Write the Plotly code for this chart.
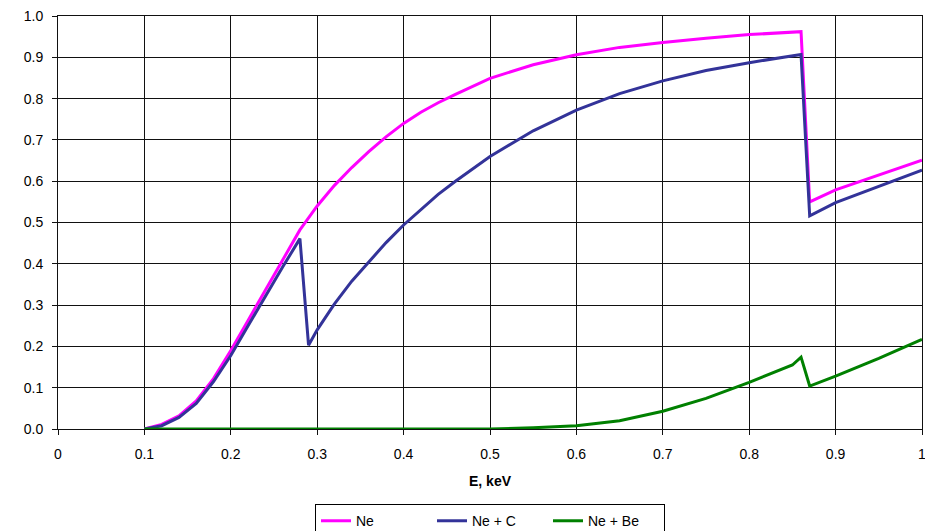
import plotly.graph_objects as go

# Energy grid (keV) and transmission values
e_ne = [0.10, 0.12, 0.14, 0.16, 0.18, 0.20, 0.22, 0.24, 0.26, 0.28, 0.30, 0.32, 0.34, 0.36, 0.38,
        0.40, 0.42, 0.44, 0.46, 0.50, 0.55, 0.60, 0.65, 0.70, 0.75, 0.80, 0.86, 0.87, 0.90, 0.95, 1.00]
ne = [0.000, 0.011, 0.032, 0.068, 0.122, 0.190, 0.263, 0.337, 0.409, 0.482, 0.540, 0.590, 0.633, 0.672, 0.708,
      0.740, 0.767, 0.790, 0.810, 0.849, 0.882, 0.906, 0.924, 0.936, 0.946, 0.955, 0.962, 0.550, 0.579, 0.615, 0.651]

e_nec = [0.10, 0.12, 0.14, 0.16, 0.18, 0.20, 0.22, 0.24, 0.26, 0.28, 0.29, 0.30, 0.32, 0.34, 0.36, 0.38,
         0.40, 0.42, 0.44, 0.46, 0.48, 0.50, 0.55, 0.60, 0.65, 0.70, 0.75, 0.80, 0.86, 0.87, 0.90, 0.95, 1.00]
nec = [0.000, 0.008, 0.028, 0.062, 0.115, 0.178, 0.250, 0.322, 0.392, 0.461, 0.203, 0.240, 0.303, 0.358, 0.406, 0.452,
       0.494, 0.532, 0.568, 0.600, 0.630, 0.660, 0.722, 0.772, 0.812, 0.843, 0.868, 0.887, 0.907, 0.516, 0.548, 0.587, 0.627]

e_nebe = [0.10, 0.50, 0.55, 0.60, 0.65, 0.70, 0.75, 0.80, 0.85, 0.86, 0.87, 0.90, 0.95, 1.00]
nebe = [0.000, 0.000, 0.003, 0.008, 0.020, 0.043, 0.074, 0.113, 0.155, 0.174, 0.104, 0.128, 0.171, 0.217]

x_ticks = [0, 0.1, 0.2, 0.3, 0.4, 0.5, 0.6, 0.7, 0.8, 0.9, 1.0]
x_labels = ["0", "0.1", "0.2", "0.3", "0.4", "0.5", "0.6", "0.7", "0.8", "0.9", "1"]
y_ticks = [0.0, 0.1, 0.2, 0.3, 0.4, 0.5, 0.6, 0.7, 0.8, 0.9, 1.0]
y_labels = ["0.0", "0.1", "0.2", "0.3", "0.4", "0.5", "0.6", "0.7", "0.8", "0.9", "1.0"]

fig = go.Figure()
fig.add_trace(go.Scatter(x=e_ne, y=ne, mode="lines", name="Ne",
                         line=dict(color="#FF00FF", width=3)))
fig.add_trace(go.Scatter(x=e_nec, y=nec, mode="lines", name="Ne + C",
                         line=dict(color="#333399", width=3)))
fig.add_trace(go.Scatter(x=e_nebe, y=nebe, mode="lines", name="Ne + Be",
                         line=dict(color="#008000", width=3)))

axis_font = dict(family="Liberation Sans, Arial, sans-serif", size=14, color="black")
fig.update_layout(
    width=925, height=523,
    margin=dict(l=50, r=11, t=8, b=102, autoexpand=False),
    paper_bgcolor="white", plot_bgcolor="white",
    font=axis_font,
    showlegend=True,
    legend=dict(orientation="h", x=0.5, xanchor="center", y=-0.182, yanchor="top",
                bordercolor="black", borderwidth=1, font=dict(size=14),
                entrywidth=71, entrywidthmode="pixels", itemwidth=30, tracegroupgap=0),
    xaxis=dict(range=[0, 1], tickvals=x_ticks, ticktext=x_labels,
               showgrid=True, gridcolor="#111111", gridwidth=1,
               showline=True, linecolor="#111111", linewidth=1, mirror=True,
               ticks="outside", ticklen=5, tickcolor="#111111", zeroline=False,
               ticklabelstandoff=7, ticklabeloverflow="allow",
               title=dict(text="<b>E, keV</b>", standoff=15, font=dict(size=14))),
    yaxis=dict(range=[0, 1], tickvals=y_ticks, ticktext=y_labels,
               showgrid=True, gridcolor="#111111", gridwidth=1,
               showline=True, linecolor="#111111", linewidth=1, mirror=True,
               ticks="outside", ticklen=5, tickcolor="#111111", zeroline=False,
               ticklabelstandoff=6, ticklabeloverflow="allow"),
)

fig.write_html("out.html")
